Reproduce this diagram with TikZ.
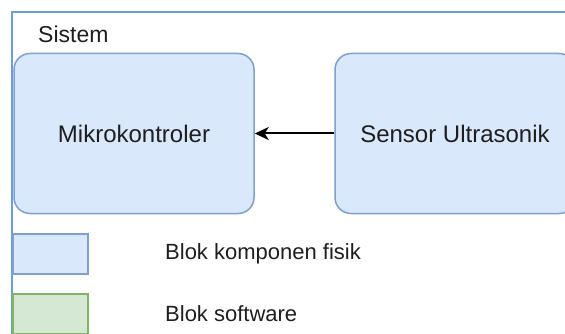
\documentclass[tikz,border=0pt]{standalone}
\usepackage{fontspec}
\setmainfont{Liberation Sans}
\usetikzlibrary{arrows.meta}
\definecolor{frameblue}{HTML}{6A9FD8}
\definecolor{boxfill}{HTML}{DAE8FC}
\definecolor{boxdraw}{HTML}{7F9FCF}
\definecolor{swfill}{HTML}{D5E8D4}
\definecolor{swdraw}{HTML}{82B366}
\definecolor{txt}{HTML}{1E1E1E}
\tikzset{
  comp/.style={draw=boxdraw, fill=boxfill, line width=1.5pt, rounded corners=16pt, minimum width=240pt, minimum height=160pt, inner sep=0pt, font=\fontsize{24}{28}\selectfont, text=txt},
  legphys/.style={draw=boxdraw, fill=boxfill, line width=1.5pt, minimum width=75pt, minimum height=40pt, inner sep=0pt},
  legsw/.style={draw=swdraw, fill=swfill, line width=1.5pt, minimum width=75pt, minimum height=40pt, inner sep=0pt},
  legtext/.style={anchor=west, inner sep=0pt, font=\fontsize{22}{26}\selectfont, text=txt},
  conn/.style={draw=black, line width=2pt, -{Stealth[length=14pt,width=13pt,inset=4pt]}}
}
\begin{document}
\begin{tikzpicture}[x=1pt,y=-1pt]
\useasboundingbox (0,0) rectangle (565,334);
\clip (0,0) rectangle (565,334);
\draw[frameblue, line width=2pt] (12,400) -- (12,12) -- (600,12);
\node[anchor=west, inner sep=0pt, font=\fontsize{23}{27}\selectfont, text=txt] (sistem) at (38,34) {Sistem};
\node[comp] (mk) at (134,133.5) {Mikrokontroler};
\node[comp] (sensor) at (455,133.5) {Sensor Ultrasonik};
\draw[conn] (sensor.west) -- (mk.east);
\node[legphys] (lp) at (50.5,254) {};
\node[legsw] (ls) at (50.5,314) {};
\node[legtext] (lpt) at (165,254) {Blok komponen fisik};
\node[legtext] (lst) at (165,314) {Blok software};
\end{tikzpicture}
\end{document}
